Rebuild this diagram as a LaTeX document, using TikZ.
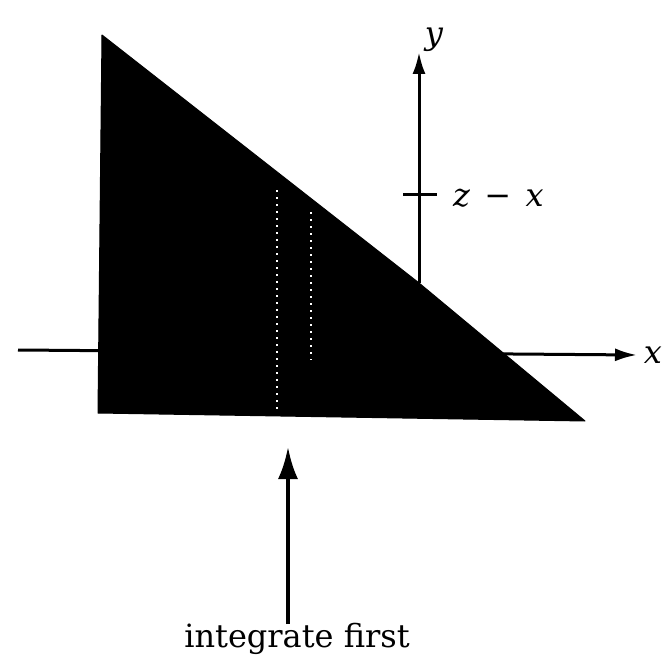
\documentclass[tikz,border=0pt]{standalone}
\usepackage{fontspec}
\setmainfont{DejaVu Serif}
\usetikzlibrary{arrows.meta}
\begin{document}
\begin{tikzpicture}[x=1pt,y=-1pt,
  axis/.style={line width=3pt,-{Latex[length=22pt,width=13pt]}},
  bigarrow/.style={line width=3.8pt,-{Latex[length=32pt,width=20pt]}},
  lbl/.style={inner sep=0pt,font=\fontsize{32}{38}\selectfont},
  region/.style={fill=black,draw=black,line width=1pt,line join=round},
  speck/.style={white,line width=1.3pt,dash pattern=on 2pt off 5pt}]
\useasboundingbox (0,0) rectangle (665,661);
% coordinates
\coordinate (A) at (102,35);
\coordinate (B) at (98,413);
\coordinate (C) at (585,421);
\coordinate (M) at (419,283);
\coordinate (xs) at (18,350);
\coordinate (xe) at (637,355);
\coordinate (ye) at (419,52);
\coordinate (t1) at (403,194);
\coordinate (t2) at (437,194);
\coordinate (as) at (288,624);
\coordinate (ae) at (288,447);
\coordinate (s1a) at (277,190);
\coordinate (s1b) at (277,412);
\coordinate (s2a) at (311,212);
\coordinate (s2b) at (311,360);
% x axis (behind region)
\draw[axis] (xs) -- (xe);
% region
\draw[region] (A) -- (B) -- (C) -- (M) -- cycle;
\draw[speck] (s1a) -- (s1b);
\draw[speck] (s2a) -- (s2b);
% y axis
\draw[axis] (M) -- (ye);
\draw[line width=3pt] (t1) -- (t2);
% labels
\node[lbl] (ylab) at (434,40) {\itshape y};
\node[lbl,anchor=base west] (zlab) at (453,207) {\itshape z\hspace{0.45em}−\hspace{0.45em}x};
\node[lbl] (xlab) at (653,355) {\itshape x};
% arrow
\node[lbl,anchor=base] (txt) at (297,647) {integrate first};
\draw[bigarrow] (as) -- (ae);
\end{tikzpicture}
\end{document}
